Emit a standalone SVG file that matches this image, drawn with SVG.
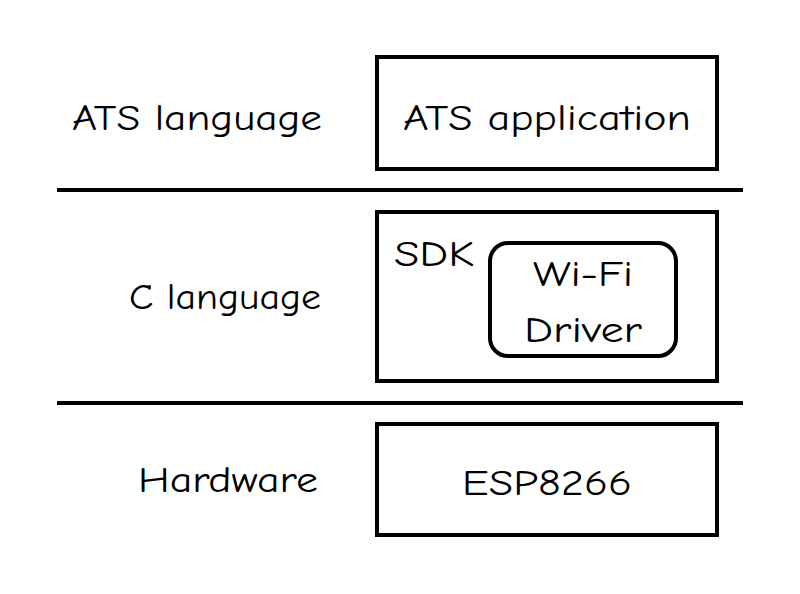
<svg xmlns="http://www.w3.org/2000/svg" width="800" height="594" viewBox="0 0 800 594">
<style>
.box{fill:none;stroke:#000;stroke-width:4}
.sep{stroke:#000;stroke-width:4}
text{font-family:"Comic Sans MS","Comic Neue","DejaVu Sans",sans-serif;font-size:37px;fill:#000}
.c{text-anchor:middle}
</style>
<rect width="800" height="594" fill="#fff"/>
<g id="labels">
<text class="c" x="197" y="130" textLength="250" lengthAdjust="spacingAndGlyphs">ATS language</text>
<text class="c" x="225" y="309" textLength="192" lengthAdjust="spacingAndGlyphs">C language</text>
<text class="c" x="228" y="492" textLength="180" lengthAdjust="spacingAndGlyphs">Hardware</text>
</g>
<g id="separators">
<line class="sep" x1="57" y1="190" x2="743" y2="190"/>
<line class="sep" x1="57" y1="403" x2="743" y2="403"/>
</g>
<g id="ats-application">
<rect class="box" x="377" y="57" width="340" height="112"/>
<text class="c" x="547" y="130" textLength="288" lengthAdjust="spacingAndGlyphs">ATS application</text>
</g>
<g id="sdk">
<rect class="box" x="377" y="212" width="340" height="169"/>
<text x="394" y="266" textLength="80" lengthAdjust="spacingAndGlyphs">SDK</text>
</g>
<g id="wifi-driver">
<rect class="box" x="490" y="243" width="186" height="113" rx="18"/>
<text class="c" x="583" y="286" textLength="100" lengthAdjust="spacingAndGlyphs">Wi-Fi</text>
<text class="c" x="583" y="342" textLength="118" lengthAdjust="spacingAndGlyphs">Driver</text>
</g>
<g id="esp8266">
<rect class="box" x="377" y="424" width="340" height="111"/>
<text class="c" x="547" y="495" textLength="170" lengthAdjust="spacingAndGlyphs">ESP8266</text>
</g>
</svg>
